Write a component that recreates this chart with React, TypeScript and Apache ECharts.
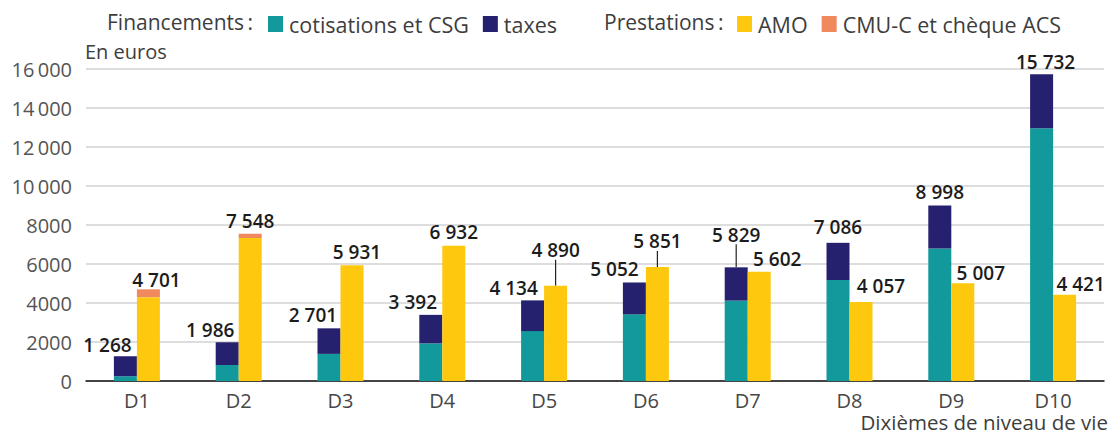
import React, { useEffect, useRef } from "react";
import * as echarts from "echarts";

const categories = ["D1", "D2", "D3", "D4", "D5", "D6", "D7", "D8", "D9", "D10"];
const cotisations = [250, 820, 1390, 1930, 2560, 3420, 4120, 5180, 6800, 12960];
const taxes = [1018, 1166, 1311, 1462, 1574, 1632, 1709, 1906, 2198, 2772];
const amo = [4301, 7328, 5931, 6932, 4890, 5851, 5602, 4057, 5007, 4421];
const cmu = [400, 220, 0, 0, 0, 0, 0, 0, 0, 0];
const financementTotals = [1268, 1986, 2701, 3392, 4134, 5052, 5829, 7086, 8998, 15732];
const prestationTotals = [4701, 7548, 5931, 6932, 4890, 5851, 5602, 4057, 5007, 4421];

// label placement tweaks (styling, not data)
const finDx = [-18, -17, -16, -18, -19, -20, 0, 0, 0, 4];
const finDy = [3, 2, 1, 2, 2, 1, -18, -1, 1, 2];
const preDx = [8, 0, 5, 0, 0, 0, 18, 20, 18, 16];
const preDy = [5, 2, 1, 1, -21, -11, 2, -1, 4, 4];
const finLeader = [false, false, false, false, false, false, true, false, false, false];
const preLeader = [false, false, false, false, true, true, false, false, false, false];

const FONT = "Open Sans";
const fmt = (v: number) => {
  const s = String(v);
  return s.length > 3 ? s.slice(0, s.length - 3) + " " + s.slice(s.length - 3) : s;
};
const fmtTick = (v: number) => {
  const s = String(v);
  return s.length > 4 ? s.slice(0, s.length - 3) + "\u2009" + s.slice(s.length - 3) : s;
};

const C_TEAL = "#11999b";
const C_NAVY = "#25216f";
const C_YEL = "#fec80e";
const C_ORA = "#f0895d";
const C_TXT = "#3d3d3d";

export default function App() {
  const ref = useRef<HTMLDivElement>(null);
  useEffect(() => {
    if (!ref.current) return;
    const chart = echarts.init(ref.current, null, { renderer: "svg" });
    const labelBase = {
      show: true,
      position: "top" as const,
      distance: 5,
      color: "#1c1c1c",
      fontFamily: FONT,
      fontWeight: 600 as any,
      fontSize: 19,
    };
    const legendText = { fontFamily: FONT, fontSize: 21.5, color: C_TXT, padding: [0, 0, 0, 1] };
    chart.setOption({
      animation: false,
      textStyle: { fontFamily: FONT },
      grid: { left: 86, right: 6, top: 69, bottom: 53, containLabel: false },
      legend: [
        {
          data: ["cotisations et CSG", "taxes"],
          left: 263,
          top: 8,
          itemWidth: 15,
          itemHeight: 16,
          itemGap: 14,
          icon: "rect",
          selectedMode: false,
          textStyle: legendText,
        },
        {
          data: ["AMO", "CMU-C et chèque ACS"],
          left: 732,
          top: 8,
          itemWidth: 15,
          itemHeight: 16,
          itemGap: 14,
          icon: "rect",
          selectedMode: false,
          textStyle: legendText,
        },
      ],
      graphic: [
        {
          type: "text",
          left: 107,
          top: 11,
          style: { text: "Financements\u2009:", fontFamily: FONT, fontSize: 21, fill: C_TXT },
        },
        {
          type: "text",
          left: 604,
          top: 11,
          style: { text: "Prestations\u2009:", fontFamily: FONT, fontSize: 21, fill: C_TXT },
        },
        {
          type: "text",
          left: 85,
          top: 41,
          style: { text: "En euros", fontFamily: FONT, fontSize: 20, fill: C_TXT },
        },
        {
          type: "text",
          right: 2,
          top: 411,
          style: { text: "Dixièmes de niveau de vie", fontFamily: FONT, fontSize: 20.5, fill: C_TXT },
        },
      ],
      xAxis: {
        type: "category",
        data: categories,
        axisLine: { lineStyle: { color: "#111", width: 1.5 } },
        axisTick: { show: false },
        axisLabel: { fontFamily: FONT, fontSize: 20, color: "#474747", margin: 9 },
      },
      yAxis: {
        type: "value",
        min: 0,
        max: 16000,
        interval: 2000,
        axisLine: { show: false },
        axisTick: { show: false },
        splitLine: { lineStyle: { color: "#d2d2d2", width: 1.5 } },
        axisLabel: {
          fontFamily: FONT,
          fontSize: 20,
          color: "#555",
          margin: 14,
          formatter: (v: number) => fmtTick(v),
        },
      },
      series: [
        {
          name: "cotisations et CSG",
          type: "bar",
          stack: "fin",
          barWidth: 23,
          barGap: "0%",
          itemStyle: { color: C_TEAL },
          data: cotisations,
        },
        {
          name: "taxes",
          type: "bar",
          stack: "fin",
          barWidth: 23,
          barGap: "0%",
          itemStyle: { color: C_NAVY },
          label: { ...labelBase, formatter: (p: any) => fmt(financementTotals[p.dataIndex]) },
          labelLine: { show: false, lineStyle: { color: "#222", width: 1.2 } },
          labelLayout: (p: any) => ({ dx: finDx[p.dataIndex], dy: finDy[p.dataIndex] }),
          data: taxes.map((v, i) => ({ value: v, labelLine: { show: finLeader[i] } })),
        },
        {
          name: "AMO",
          type: "bar",
          stack: "pre",
          barWidth: 23,
          barGap: "0%",
          itemStyle: { color: C_YEL },
          data: amo,
        },
        {
          name: "CMU-C et chèque ACS",
          type: "bar",
          stack: "pre",
          barWidth: 23,
          barGap: "0%",
          itemStyle: { color: C_ORA },
          label: { ...labelBase, formatter: (p: any) => fmt(prestationTotals[p.dataIndex]) },
          labelLine: { show: false, lineStyle: { color: "#222", width: 1.2 } },
          labelLayout: (p: any) => ({ dx: preDx[p.dataIndex], dy: preDy[p.dataIndex] }),
          data: cmu.map((v, i) => ({ value: v, labelLine: { show: preLeader[i] } })),
        },
      ],
    });
    return () => chart.dispose();
  }, []);
  return <div ref={ref} style={{ width: 1110, height: 434, position: "absolute", left: 0, top: 0 }} />;
}
